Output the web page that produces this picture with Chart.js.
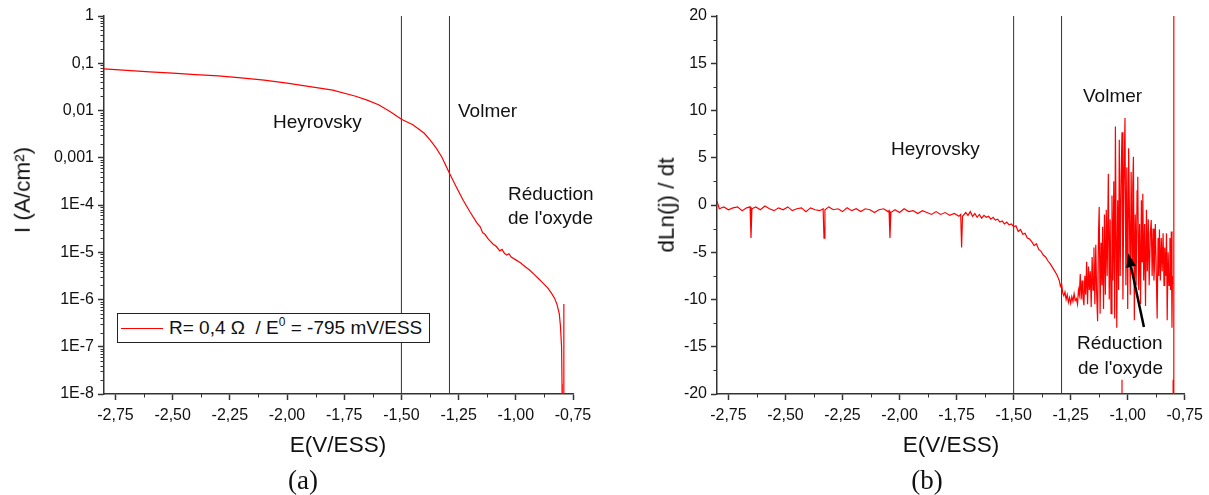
<!DOCTYPE html>
<html>
<head>
<meta charset="utf-8">
<script src="https://cdn.jsdelivr.net/npm/chart.js@4"></script>
<style>
  body { margin: 0; background: #fff; }
  #wrap { position: relative; width: 1209px; height: 495px; font-family: "Liberation Sans", Arial, sans-serif; color: #111; overflow: hidden; }
  canvas { position: absolute; top: 0; }
  .yt, .xt { position: absolute; font-size: 22.5px; line-height: 1; white-space: nowrap; }
  .yt { transform: translate(-50%, -50%) rotate(-90deg); }
  .xt { transform: translate(-50%, -50%); }
  .cap { position: absolute; font-family: "Liberation Serif", "DejaVu Serif", serif; font-size: 27px; line-height: 1; transform: translate(-50%, -50%); }
  .note { position: absolute; font-size: 19px; line-height: 1; white-space: nowrap; transform: translateY(-50%); }
  #leg { position: absolute; left: 117px; top: 313px; width: 311px; height: 28px; border: 1px solid #222; background: #fff;
         font-size: 19px; line-height: 28px; white-space: nowrap; }
  #leg .ln { display: inline-block; width: 42px; border-top: 1.5px solid #f00; vertical-align: middle; margin: 0 6px 0 3px; }
  #leg sup { font-size: 12px; line-height: 0; vertical-align: 8px; }
</style>
</head>
<body>
<div id="wrap">
  <canvas id="chartA" width="605" height="495" style="left:0"></canvas>
  <canvas id="chartB" width="604" height="495" style="left:605px"></canvas>

  <div class="yt" style="left:23px;top:190px">I (A/cm²)</div>
  <div class="yt" style="left:667px;top:205px">dLn(j) / dt</div>
  <div class="xt" style="left:338px;top:445px">E(V/ESS)</div>
  <div class="xt" style="left:951px;top:445px">E(V/ESS)</div>
  <div class="cap" style="left:303px;top:480px">(a)</div>
  <div class="cap" style="left:927px;top:480px">(b)</div>

  <div class="note" style="left:273px;top:121px">Heyrovsky</div>
  <div class="note" style="left:458px;top:110px">Volmer</div>
  <div class="note" style="left:508px;top:193px">Réduction</div>
  <div class="note" style="left:508px;top:217px">de l'oxyde</div>

  <div class="note" style="left:891px;top:148px">Heyrovsky</div>
  <div class="note" style="left:1083px;top:95px">Volmer</div>
  <div class="note" style="left:1077px;top:342px">Réduction</div>
  <div class="note" style="left:1078px;top:367px">de l'oxyde</div>

  <div id="leg"><span class="ln"></span>R= 0,4 Ω &nbsp;/ E<sup>0</sup> = -795 mV/ESS</div>
</div>

<script>
// axes
const xTickVals = [-2.75, -2.5, -2.25, -2, -1.75, -1.5, -1.25, -1, -0.75];
const xTickLabels = ['-2,75', '-2,50', '-2,25', '-2,00', '-1,75', '-1,50', '-1,25', '-1,00', '-0,75'];
const xMinor = [-2.625, -2.375, -2.125, -1.875, -1.625, -1.375, -1.125, -0.875];
const yTickValsA = [1e-8, 1e-7, 1e-6, 1e-5, 1e-4, 1e-3, 1e-2, 1e-1, 1];
const yTickLabelsA = ['1E-8', '1E-7', '1E-6', '1E-5', '1E-4', '0,001', '0,01', '0,1', '1'];
const yTickValsB = [-20, -15, -10, -5, 0, 5, 10, 15, 20];
const yTickLabelsB = ['-20', '-15', '-10', '-5', '0', '5', '10', '15', '20'];
const yMinorB = [-17.5, -12.5, -7.5, -2.5, 2.5, 7.5, 12.5, 17.5];
const markerE = [-1.5, -1.29];

// (a) current density vs potential
const eA = [
  -2.80, -2.70, -2.60, -2.50, -2.40, -2.30, -2.20, -2.10, -2.00, -1.90,
  -1.80, -1.70, -1.65, -1.60, -1.55, -1.50, -1.45, -1.40, -1.375, -1.35,
  -1.324, -1.29, -1.26, -1.23, -1.20, -1.17, -1.155, -1.145, -1.135, -1.12,
  -1.10, -1.085, -1.07, -1.06, -1.05, -1.04, -1.03, -1.02, -1.00, -0.98,
  -0.96, -0.94, -0.92, -0.90, -0.88, -0.86, -0.845, -0.83, -0.82, -0.81,
  -0.805, -0.80, -0.798, -0.797, -0.791, -0.790
];
const iA = [
  7.6e-2, 7.1e-2, 6.6e-2, 6.2e-2, 5.75e-2, 5.4e-2, 4.9e-2, 4.4e-2, 3.8e-2, 3.2e-2,
  2.7e-2, 2.0e-2, 1.66e-2, 1.32e-2, 9.5e-3, 6.5e-3, 5.0e-3, 3.3e-3, 2.4e-3, 1.66e-3,
  1.05e-3, 4.7e-4, 2.4e-4, 1.26e-4, 7.1e-5, 4.2e-5, 3.4e-5, 2.6e-5, 2.4e-5, 1.9e-5,
  1.5e-5, 1.32e-5, 1.07e-5, 1.15e-5, 9.5e-6, 8.7e-6, 9.3e-6, 7.9e-6, 6.9e-6, 6.0e-6,
  5.0e-6, 4.2e-6, 3.4e-6, 2.75e-6, 2.2e-6, 1.74e-6, 1.38e-6, 1.05e-6, 7.9e-7, 5.0e-7,
  2.8e-7, 1.0e-7, 1.6e-8, 1e-9, 1e-9, 8.0e-7
];

// (b) dLn(j)/dt vs potential
const eB = [
  -2.800, -2.790, -2.770, -2.750, -2.730, -2.710, -2.690, -2.670, -2.655, -2.651,
  -2.647, -2.630, -2.610, -2.590, -2.570, -2.550, -2.530, -2.510, -2.490, -2.470,
  -2.450, -2.430, -2.410, -2.390, -2.370, -2.350, -2.335, -2.331, -2.327, -2.310,
  -2.290, -2.270, -2.250, -2.230, -2.210, -2.190, -2.170, -2.150, -2.130, -2.110,
  -2.090, -2.070, -2.050, -2.046, -2.042, -2.038, -2.020, -2.000, -1.980, -1.960,
  -1.940, -1.920, -1.900, -1.880, -1.860, -1.840, -1.820, -1.800, -1.780, -1.760,
  -1.740, -1.732, -1.728, -1.724, -1.710, -1.700, -1.690, -1.680, -1.670, -1.660,
  -1.650, -1.640, -1.630, -1.620, -1.610, -1.600, -1.590, -1.580, -1.570, -1.560,
  -1.550, -1.540, -1.530, -1.520, -1.510, -1.500, -1.490, -1.480, -1.470, -1.460,
  -1.450, -1.440, -1.430, -1.420, -1.410, -1.400, -1.390, -1.380, -1.370, -1.360,
  -1.350, -1.340, -1.330, -1.320, -1.310, -1.300, -1.295, -1.290, -1.285, -1.280,
  -1.275, -1.270, -1.265, -1.260, -1.255, -1.250, -1.245, -1.240, -1.235, -1.230,
  -1.225, -1.220, -1.216,
  -1.212, -1.208, -1.204, -1.200, -1.196, -1.192, -1.188, -1.184, -1.180, -1.176,
  -1.172, -1.168, -1.164, -1.160, -1.156, -1.152, -1.148, -1.144, -1.140, -1.136,
  -1.132, -1.128, -1.125, -1.121, -1.117, -1.113, -1.110, -1.106, -1.102, -1.098,
  -1.094, -1.090, -1.085, -1.081, -1.077, -1.073, -1.069, -1.065, -1.061, -1.057,
  -1.054, -1.050, -1.048, -1.044, -1.040, -1.037, -1.033, -1.029, -1.025, -1.021,
  -1.017, -1.012, -1.008, -1.004, -1.000, -0.996, -0.993, -0.989, -0.985, -0.981,
  -0.978, -0.975, -0.971, -0.967, -0.963, -0.959, -0.956, -0.952, -0.948, -0.944,
  -0.940, -0.937, -0.934, -0.930, -0.926, -0.922, -0.918, -0.914, -0.910, -0.906,
  -0.901, -0.897, -0.893, -0.889, -0.885, -0.883, -0.879, -0.875, -0.871, -0.867,
  -0.864, -0.861, -0.857, -0.853, -0.849, -0.845, -0.841, -0.838, -0.834, -0.830,
  -0.827, -0.823, -0.819, -0.815, -0.812, -0.809, -0.806, -0.804
];
const dB = [
  0.4, -0.4, -0.2, -0.5, -0.3, -0.2, -0.6, -0.3, -0.2, -3.5,
  -0.4, -0.2, -0.5, -0.1, -0.4, -0.6, -0.3, -0.5, -0.2, -0.6,
  -0.4, -0.3, -0.7, -0.3, -0.5, -0.6, -0.4, -3.5, -0.5, -0.2,
  -0.5, -0.4, -0.7, -0.3, -0.6, -0.4, -0.7, -0.4, -0.5, -0.8,
  -0.5, -0.4, -0.7, -0.6, -3.5, -0.8, -0.5, -0.8, -0.4, -0.7,
  -0.6, -0.9, -0.6, -0.8, -1.0, -0.7, -1.0, -0.8, -1.1, -0.9,
  -1.2, -1.0, -4.5, -1.2, -0.8, -1.1, -0.7, -1.2, -0.9, -1.3,
  -1.0, -1.4, -1.1, -1.3, -1.2, -1.5, -1.3, -1.6, -1.5, -1.8,
  -1.7, -2.0, -1.8, -2.1, -2.0, -2.3, -2.2, -2.8, -2.6, -3.1,
  -3.0, -3.5, -3.6, -3.9, -4.3, -4.1, -4.7, -4.9, -5.3, -5.5,
  -5.9, -6.2, -6.6, -7.0, -7.4, -8.0, -8.6, -8.3, -9.3, -9.6,
  -9.2, -10.0, -9.5, -10.3, -9.8, -10.4, -9.7, -10.2, -9.4, -10.1,
  -9.9, -10.5, -9.0,
  -9.5, -7.3, -10.0, -8.0, -9.8, -10.6, -7.5, -9.5, -6.0, -10.5,
  -6.5, -9.0, -7.0, -10.8, -5.5, -9.0, -4.5, -10.5, -4.2, -9.5,
  -12.3, -3.0, -0.2, -11.5, -4.0, -8.5, -2.3, -11.0, -1.0, -9.5,
  -0.5, -7.5, 3.3, -10.0, -1.5, -11.5, 1.0, -8.0, 2.5, -12.0,
  8.3, -6.0, -13.0, 0.5, -9.0, 6.9, -7.5, 3.0, 7.7, -10.0,
  1.5, 9.2, -8.5, 4.0, -11.0, 6.0, 0.2, -9.5, 3.5, -6.0,
  2.0, 5.1, -12.2, -1.0, -8.5, 1.5, 3.0, -9.0, -2.0, -10.5,
  0.5, -6.0, 1.2, -8.0, -2.0, -10.7, -0.5, -7.0, -1.5, -8.5,
  -3.0, -1.6, -7.5, -2.5, -8.0, -6.5, -2.0, -7.0, -12.0, -3.5,
  -7.5, -2.6, -8.0, -3.5, -7.0, -3.0, -8.5, -4.5, -7.5, -3.0,
  -12.2, -5.0, -8.5, -3.5, -9.0, -2.8, -13.0, -7.5
];
// off-scale excursions (broken segments)
const offE = [-1.025, -1.025, -1.0, -0.801, -0.801, -0.8, -0.798, -0.798];
const offD = [-18.5, -40, null, -18.5, -40, null, 40, -40];

function pts(xs, ys) {
  return xs.map((x, i) => ({ x: x, y: ys[i] }));
}

Chart.defaults.font.family = "'Liberation Sans', Arial, sans-serif";
Chart.defaults.color = '#111';

// short ticks between the major ones
const minorTicks = {
  id: 'minorTicks',
  afterDraw(chart, args, opts) {
    const ctx = chart.ctx;
    const xs = chart.scales.x, ys = chart.scales.y;
    ctx.save();
    ctx.strokeStyle = '#333';
    ctx.lineWidth = 1;
    (opts.x || []).forEach(v => {
      const px = Math.round(xs.getPixelForValue(v)) + 0.5;
      ctx.beginPath(); ctx.moveTo(px, xs.top); ctx.lineTo(px, xs.top + 3.5); ctx.stroke();
    });
    (opts.y || []).forEach(v => {
      const py = Math.round(ys.getPixelForValue(v)) + 0.5;
      ctx.beginPath(); ctx.moveTo(ys.right, py); ctx.lineTo(ys.right - 3.5, py); ctx.stroke();
    });
    ctx.restore();
  }
};

const arrow = {
  id: 'arrow',
  afterDatasetsDraw(chart, args, opts) {
    if (!opts.from) return;
    const xs = chart.scales.x, ys = chart.scales.y, ctx = chart.ctx;
    const x1 = xs.getPixelForValue(opts.from[0]), y1 = ys.getPixelForValue(opts.from[1]);
    const x2 = xs.getPixelForValue(opts.to[0]), y2 = ys.getPixelForValue(opts.to[1]);
    const a = Math.atan2(y2 - y1, x2 - x1);
    const hl = 14, hw = 5;
    const bx = x2 - hl * Math.cos(a), by = y2 - hl * Math.sin(a);
    ctx.save();
    ctx.strokeStyle = '#000'; ctx.fillStyle = '#000'; ctx.lineWidth = 2.5;
    ctx.beginPath(); ctx.moveTo(x1, y1); ctx.lineTo(bx, by); ctx.stroke();
    ctx.beginPath();
    ctx.moveTo(x2, y2);
    ctx.lineTo(bx + hw * Math.sin(a), by - hw * Math.cos(a));
    ctx.lineTo(bx - hw * Math.sin(a), by + hw * Math.cos(a));
    ctx.closePath(); ctx.fill();
    ctx.restore();
  }
};

function xAxis() {
  return {
    type: 'linear', min: -2.8, max: -0.75,
    afterBuildTicks: s => { s.ticks = xTickVals.map(v => ({ value: v })); },
    afterFit: s => { s.height = 101; },
    ticks: { callback: (v, i) => xTickLabels[i], font: { size: 16 }, color: '#111', padding: 6, maxRotation: 0, autoSkip: false },
    grid: { drawOnChartArea: false, tickLength: 6, tickColor: '#333', tickWidth: 1.5 },
    border: { color: '#333', width: 1.5 }
  };
}

function yAxis(type, min, max, vals, labels, width) {
  return {
    type: type, min: min, max: max,
    afterBuildTicks: s => { s.ticks = vals.map(v => ({ value: v })); },
    afterFit: s => { s.width = width; },
    ticks: { callback: (v, i) => labels[i], font: { size: 16 }, color: '#111', padding: 4, autoSkip: false },
    grid: { drawOnChartArea: false, tickLength: 6, tickColor: '#333', tickWidth: 1.5 },
    border: { color: '#333', width: 1.5 }
  };
}

function markerSets(lo, hi) {
  return markerE.map(e => ({
    data: [{ x: e, y: lo }, { x: e, y: hi }],
    borderColor: '#333', borderWidth: 1, pointRadius: 0
  }));
}

let minorA = [];
for (let k = -8; k < 0; k++) {
  for (let m = 2; m <= 9; m++) minorA.push(m * Math.pow(10, k));
}

new Chart(document.getElementById('chartA'), {
  type: 'line',
  data: {
    datasets: [
      { data: pts(eA, iA), borderColor: '#ff0000', borderWidth: 1.2, pointRadius: 0 }
    ].concat(markerSets(1e-8, 1))
  },
  options: {
    responsive: false, animation: false,
    layout: { padding: { left: 0, top: 16, right: 32, bottom: 0 } },
    scales: { x: xAxis(), y: yAxis('logarithmic', 1e-8, 1, yTickValsA, yTickLabelsA, 104) },
    plugins: { legend: { display: false }, tooltip: { enabled: false }, minorTicks: { x: xMinor, y: minorA } }
  },
  plugins: [minorTicks]
});

new Chart(document.getElementById('chartB'), {
  type: 'line',
  data: {
    datasets: [
      { data: pts(eB, dB), borderColor: '#ff0000', borderWidth: 1.2, pointRadius: 0 },
      { data: pts(offE, offD), borderColor: '#ff0000', borderWidth: 1.2, pointRadius: 0, spanGaps: false }
    ].concat(markerSets(-20, 20))
  },
  options: {
    responsive: false, animation: false,
    layout: { padding: { left: 0, top: 16, right: 23, bottom: 0 } },
    scales: { x: xAxis(), y: yAxis('linear', -20, 20, yTickValsB, yTickLabelsB, 112) },
    plugins: {
      legend: { display: false }, tooltip: { enabled: false },
      minorTicks: { x: xMinor, y: yMinorB },
      arrow: { from: [-0.929, -12.9], to: [-0.998, -5.1] }
    }
  },
  plugins: [minorTicks, arrow]
});
</script>
</body>
</html>
